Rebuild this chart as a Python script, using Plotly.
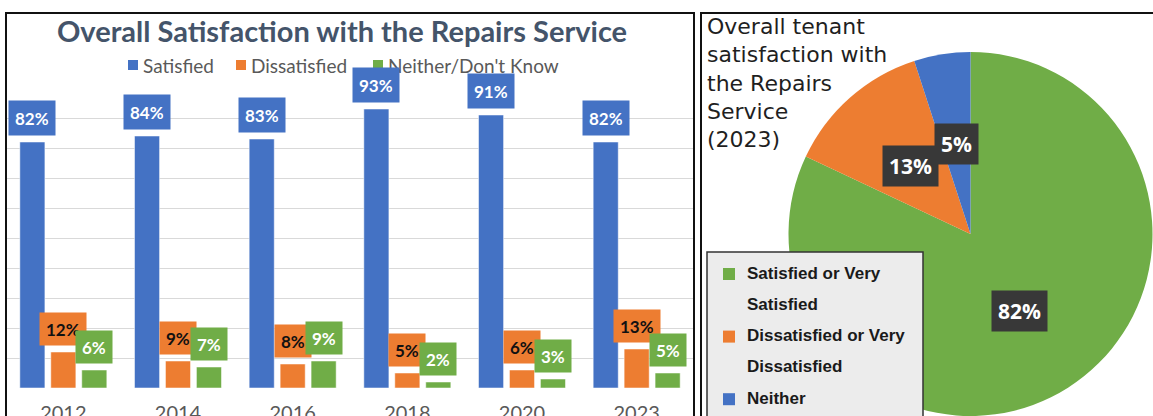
import math
import plotly.graph_objects as go

# ---------------- data ----------------
years = ["2012", "2014", "2016", "2018", "2020", "2023"]
satisfied = [82, 84, 83, 93, 91, 82]
dissatisfied = [12, 9, 8, 5, 6, 13]
neither = [6, 7, 9, 2, 3, 5]
series_names = ["Satisfied", "Dissatisfied", "Neither/Don't Know"]

pie_labels = ["Satisfied or Very Satisfied", "Dissatisfied or Very Dissatisfied", "Neither"]
pie_values = [82, 13, 5]

bar_title = "Overall Satisfaction with the Repairs Service"
pie_title_lines = ["Overall tenant", "satisfaction with", "the Repairs", "Service", "(2023)"]

# ---------------- style ----------------
W, H = 1153, 416
BLUE, ORANGE, GREEN = "#4472c4", "#ed7d31", "#70ad47"
bar_colors = [BLUE, ORANGE, GREEN]
label_text_colors = ["white", "#111111", "white"]
label_heights = [22, 20, 20]
legend_x = [128, 236, 373]          # left edge of each legend square (px)
pie_colors = [GREEN, ORANGE, BLUE]
BARGAP = 0.19
BARGROUPGAP = 0.19


def px(x):
    return x / W


def py(y):
    return 1 - y / H


fig = go.Figure()

series = [satisfied, dissatisfied, neither]
for name, vals, col in zip(series_names, series, bar_colors):
    fig.add_trace(go.Bar(
        x=years, y=vals, name=name, showlegend=False,
        marker=dict(color=col, line=dict(color="rgba(255,255,255,0.5)", width=1)),
        hovertemplate="%{x}: %{y}%<extra>" + name + "</extra>",
    ))

fig.add_trace(go.Pie(
    values=pie_values, labels=pie_labels,
    marker=dict(colors=pie_colors, line=dict(width=0)),
    direction="clockwise", rotation=0, sort=False,
    textinfo="none", showlegend=False,
    domain=dict(x=[px(788), 1.0], y=[0.0, py(52)]),
    hovertemplate="%{label}: %{value}%<extra></extra>",
))

annotations = []
shapes = []

# bar chart legend (drawn as squares + text)
for name, col, lx in zip(series_names, bar_colors, legend_x):
    shapes.append(dict(type="rect", xref="paper", yref="paper",
                       x0=px(lx), x1=px(lx + 10), y0=py(70), y1=py(60),
                       fillcolor=col, line=dict(width=0)))
    annotations.append(dict(
        x=px(lx + 13), y=py(65), xref="paper", yref="paper",
        text=name, showarrow=False, xanchor="left", yanchor="middle",
        font=dict(family="Lato", size=19, color="#595959"),
    ))

# bar value labels
slot = (1 - BARGAP) / 3
for k, (vals, col, tcol, hh) in enumerate(zip(series, bar_colors, label_text_colors, label_heights)):
    for i, v in enumerate(vals):
        annotations.append(dict(
            x=i + (k - 1) * slot, y=v, xref="x", yref="y",
            text=f"<b>{v}%</b>", showarrow=False,
            yanchor="bottom", xanchor="center", yshift=6,
            bgcolor=col, borderpad=6, height=hh, valign="middle",
            font=dict(family="Lato", size=17, color=tcol),
        ))

# pie value labels at half radius along the slice mid-angle
dom_x0, dom_x1 = 788, W
dom_y0, dom_y1 = 52, H
r = min(dom_x1 - dom_x0, dom_y1 - dom_y0) / 2
cx = (dom_x0 + dom_x1) / 2
cy = (dom_y0 + dom_y1) / 2
total = sum(pie_values)
cum = 0
for v in pie_values:
    mid = (cum + v / 2) / total
    cum += v
    th = 2 * math.pi * mid
    lx = cx + 0.5 * r * math.sin(th)
    ly = cy - 0.5 * r * math.cos(th)
    annotations.append(dict(
        x=px(lx), y=py(ly), xref="paper", yref="paper",
        text=f"<b>{v}%</b>", showarrow=False,
        xanchor="center", yanchor="middle",
        bgcolor="#383838", borderpad=6,
        font=dict(family="Open Sans", size=21, color="white"),
    ))

# pie title, one line per annotation
for j, ln in enumerate(pie_title_lines):
    annotations.append(dict(
        x=px(705), y=py(27 + 28 * j), xref="paper", yref="paper",
        text=ln, showarrow=False, align="left",
        xanchor="left", yanchor="middle",
        font=dict(family="DejaVu Sans", size=22, color="#1f1f1f"),
    ))

# pie legend box
shapes.append(dict(type="rect", xref="paper", yref="paper",
                   x0=px(707), x1=px(923), y0=py(425), y1=py(252),
                   fillcolor="#ececec", line=dict(color="#333333", width=1.5),
                   layer="above"))
line_y = 273
LINE_STEP = 31.3
for lab, col in zip(pie_labels, pie_colors):
    if " or Very " in lab:
        first, second = lab.rsplit(" ", 1)
        lines = [first, second]
    else:
        lines = [lab]
    shapes.append(dict(type="rect", xref="paper", yref="paper",
                       x0=px(723), x1=px(735), y0=py(line_y + 7), y1=py(line_y - 5),
                       fillcolor=col, line=dict(width=0), layer="above"))
    for ln in lines:
        annotations.append(dict(
            x=px(745), y=py(line_y), xref="paper", yref="paper",
            text=f"<b>{ln}</b>", showarrow=False,
            xanchor="left", yanchor="middle",
            font=dict(family="Liberation Sans", size=17, color="#1a1a1a"),
        ))
        line_y += LINE_STEP

# panel borders
shapes.append(dict(type="rect", xref="paper", yref="paper",
                   x0=px(6), x1=px(694), y0=py(425), y1=py(13),
                   line=dict(color="#111111", width=2), layer="above"))
shapes.append(dict(type="rect", xref="paper", yref="paper",
                   x0=px(701), x1=px(1165), y0=py(425), y1=py(13),
                   line=dict(color="#111111", width=2), layer="above"))

fig.update_layout(
    width=W, height=H,
    margin=dict(l=0, r=0, t=0, b=0, autoexpand=False),
    paper_bgcolor="white", plot_bgcolor="white",
    barmode="group", bargap=BARGAP, bargroupgap=BARGROUPGAP,
    title=dict(text=f"<b>{bar_title}</b>", x=px(342), xanchor="center",
               y=py(32), yanchor="middle", xref="paper", yref="paper",
               font=dict(family="Lato", size=29, color="#44546a")),
    xaxis=dict(domain=[px(6), px(694)], type="category", automargin=False,
               showgrid=False, zeroline=False, showline=False,
               ticks="", ticklabelstandoff=11,
               tickfont=dict(family="Lato", size=20, color="#595959")),
    yaxis=dict(domain=[py(388), py(88)], range=[0, 100], dtick=10, automargin=False,
               showgrid=True, gridcolor="#d9d9d9", gridwidth=1,
               zeroline=False, showticklabels=False, showline=False),
    annotations=annotations,
    shapes=shapes,
    showlegend=False,
)

fig.write_html("out.html", config={"displayModeBar": False},
               post_script="document.body.style.margin='0';document.body.style.overflow='hidden';")
